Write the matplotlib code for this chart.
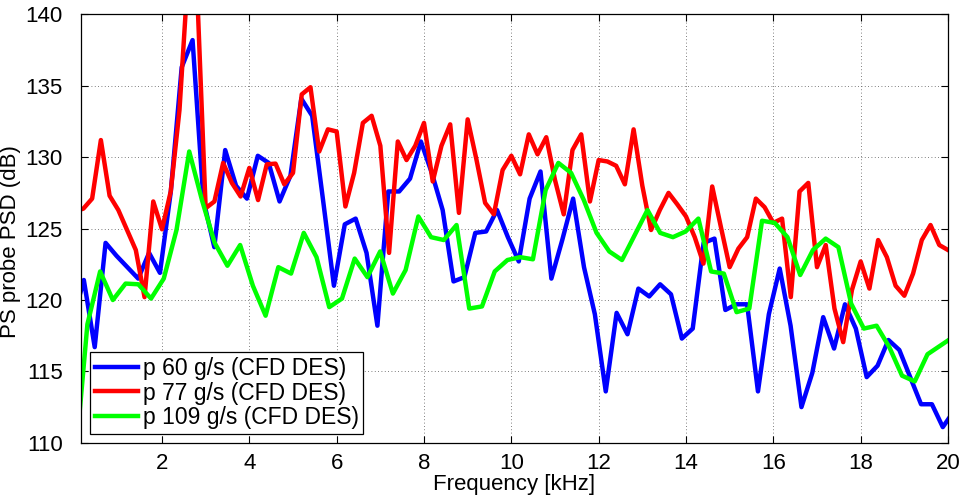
import numpy as np
import matplotlib
matplotlib.use("Agg")
import matplotlib.pyplot as plt

plt.rcParams['font.family'] = ['Liberation Sans', 'DejaVu Sans']

# ---- data ----
# p 60 g/s : frequency grid 0.249 kHz steps
blue_df = 0.249
blue_f0 = -0.039
blue_vals = [118.6, 121.4, 116.7, 124.0, 123.1, 122.3, 121.5, 123.3, 121.9, 127.6,
             136.3, 138.2, 127.0, 123.7, 130.5, 128.0, 127.1, 130.1, 129.6, 126.9,
             128.7, 134.1, 132.9, 127.0, 121.0, 125.3, 125.7, 123.3, 118.2, 127.6,
             127.6, 128.5, 131.1, 128.9, 126.3, 121.3, 121.6, 124.7, 124.8, 126.3,
             124.4, 122.7, 127.1, 129.0, 121.5, 124.2, 127.1, 122.3, 119.0, 113.6,
             119.1, 117.6, 120.8, 120.25, 121.1, 120.4, 117.3, 118.0, 124.0, 124.3,
             119.3, 119.7, 119.7, 113.6, 119.0, 122.2, 118.2, 112.5, 114.9, 118.8,
             116.6, 119.7, 118.0, 114.6, 115.4, 117.2, 116.5, 114.6, 112.7, 112.7,
             111.1, 112.2]

# p 77 g/s : frequency grid 0.2 kHz steps
red_df = 0.2
red_f0 = 0.0
red_vals = [126.2, 126.4, 127.1, 131.2, 127.3, 126.3, 124.9, 123.5, 120.2, 126.9,
            124.95, 127.6, 133.3, 143.0, 142.0, 126.43, 126.9, 129.6, 128.2, 127.25,
            129.25, 127.0, 129.5, 129.55, 128.1, 128.9, 134.4, 134.9, 130.4, 131.95,
            131.8, 126.55, 128.9, 132.4, 132.9, 130.8, 123.3, 131.1, 129.8, 130.8,
            132.4, 128.3, 130.8, 132.3, 126.1, 132.65, 129.85, 126.8, 126.0, 129.1,
            130.1, 128.8, 131.6, 130.2, 131.4, 128.4, 126.0, 130.5, 131.6, 126.9,
            129.8, 129.7, 129.4, 128.1, 131.95, 128.0, 124.9, 126.3, 127.5, 126.7,
            125.85, 124.4, 122.55, 127.95, 125.1, 122.3, 123.6, 124.4, 127.1, 126.5,
            125.4, 125.7, 120.2, 127.6, 128.2, 122.3, 123.85, 119.4, 117.05, 120.7,
            122.7, 120.8, 124.2, 123.0, 121.0, 120.3, 121.85, 124.2, 125.25, 123.85,
            123.5]

# p 109 g/s : frequency grid 0.2915 kHz steps
green_df = 0.2915
green_f0 = 0.0
green_vals = [108.2, 118.3, 122.0, 120.0, 121.15, 121.1, 120.1, 121.5, 124.9, 130.4,
              127.0, 124.0, 122.4, 123.85, 121.0, 118.9, 122.3, 121.85, 124.7, 123.0,
              119.5, 120.1, 122.9, 121.6, 123.4, 120.45, 122.1, 125.85, 124.4, 124.2,
              125.25, 119.4, 119.55, 122.0, 122.8, 123.0, 122.85, 127.7, 129.6, 128.9,
              127.0, 124.7, 123.4, 122.8, 124.55, 126.3, 124.7, 124.4, 124.8, 125.7,
              122.0, 121.85, 119.15, 119.4, 125.55, 125.4, 124.4, 121.75, 123.5, 124.3,
              123.7, 119.75, 118.0, 118.2, 116.7, 114.7, 114.3, 116.2, 116.8, 117.4]

labels = ['p 60 g/s (CFD DES)', 'p 77 g/s (CFD DES)', 'p 109 g/s (CFD DES)']
colors = ['#0000ff', '#ff0000', '#00ff00']
xticks = [2, 4, 6, 8, 10, 12, 14, 16, 18, 20]
yticks = [110, 115, 120, 125, 130, 135, 140]
xlim = (0.145, 20)
ylim = (110, 140)

blue_f = blue_f0 + blue_df * np.arange(len(blue_vals))
red_f = red_f0 + red_df * np.arange(len(red_vals))
green_f = green_f0 + green_df * np.arange(len(green_vals))

fig = plt.figure(figsize=(9.63, 4.99), dpi=100)
ax = fig.add_axes([81/963, 1 - 442.8/499, (948 - 81)/963, (442.8 - 14.4)/499])

lw = 3.2
ax.plot(blue_f, blue_vals, color=colors[0], lw=lw, label=labels[0], solid_joinstyle='round')
ax.plot(red_f, red_vals, color=colors[1], lw=lw, label=labels[1], solid_joinstyle='round')
ax.plot(green_f, green_vals, color=colors[2], lw=lw, label=labels[2], solid_joinstyle='round')

ax.set_xlim(*xlim)
ax.set_ylim(*ylim)
ax.set_xticks(xticks)
ax.set_yticks(yticks)
ax.tick_params(direction='in', top=True, right=True, labelsize=16, length=5, width=0.8)
ax.tick_params(axis='y', pad=13)
ax.tick_params(axis='x', pad=7)
ax.grid(True, linestyle=(0, (1, 3)), color='#555555', linewidth=0.6)
for s in ax.spines.values():
    s.set_linewidth(0.9)

ax.set_xlabel('Frequency [kHz]', fontsize=16, labelpad=0)
ax.set_ylabel('PS probe PSD (dB)', fontsize=16, labelpad=0)
ax.yaxis.set_label_coords(-0.0695, 0.47)

leg = ax.legend(loc='lower left', bbox_to_anchor=(0.005, 0.01), fontsize=16.5,
                frameon=True, fancybox=False, edgecolor='black', handlelength=1.9,
                borderpad=0.2, labelspacing=0.08, handletextpad=0.2, borderaxespad=0.2)
leg.get_frame().set_linewidth(0.9)
leg.get_frame().set_alpha(1)

fig.savefig('out.png', dpi=100)
